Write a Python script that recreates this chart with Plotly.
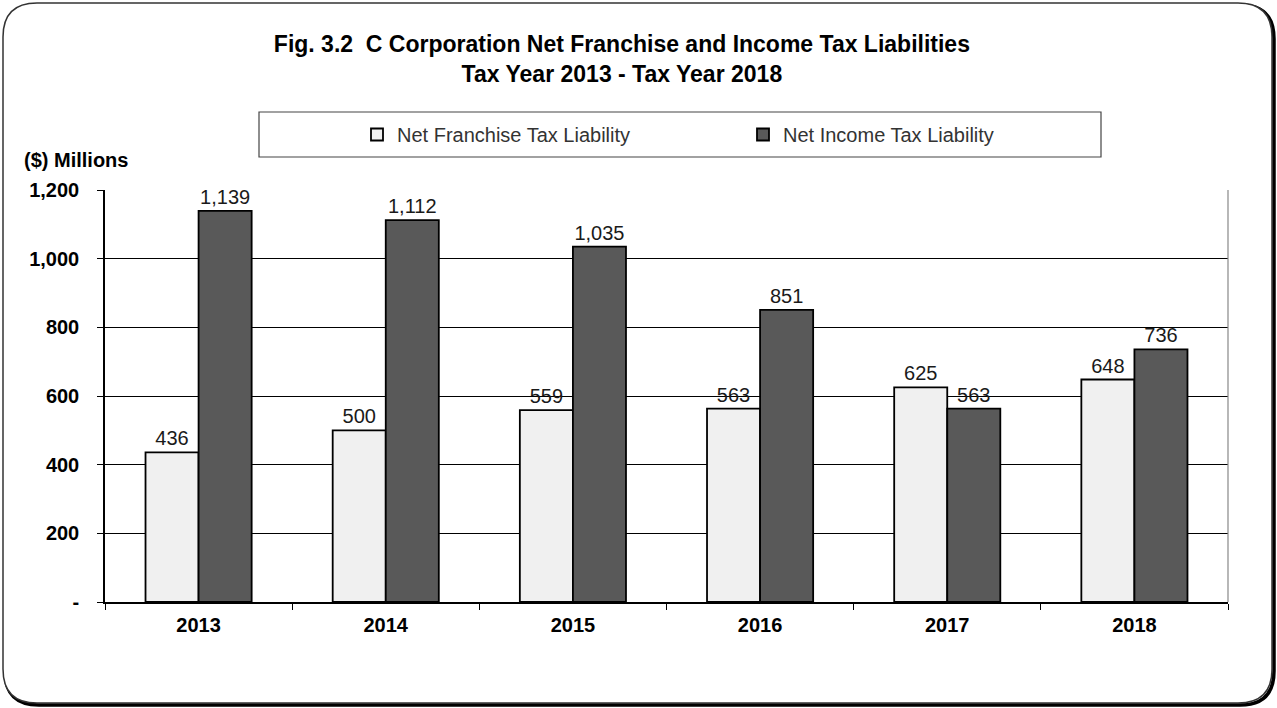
import plotly.graph_objects as go

years = ["2013", "2014", "2015", "2016", "2017", "2018"]
franchise = [436, 500, 559, 563, 625, 648]
income = [1139, 1112, 1035, 851, 563, 736]
ytick_vals = [0, 200, 400, 600, 800, 1000, 1200]
ytick_text = ["-", "200", "400", "600", "800", "1,000", "1,200"]

W, H = 1277, 708
L, R, T, B = 105, 1228, 190, 602
pw, ph = R - L, B - T

def px(x):
    return (x - L) / pw

def py(y):
    return (B - y) / ph

def rounded_path(x0, y0, x1, y1, r):
    pts = [
        f"M {px(x0 + r)} {py(y0)}",
        f"L {px(x1 - r)} {py(y0)}",
        f"Q {px(x1)} {py(y0)} {px(x1)} {py(y0 + r)}",
        f"L {px(x1)} {py(y1 - r)}",
        f"Q {px(x1)} {py(y1)} {px(x1 - r)} {py(y1)}",
        f"L {px(x0 + r)} {py(y1)}",
        f"Q {px(x0)} {py(y1)} {px(x0)} {py(y1 - r)}",
        f"L {px(x0)} {py(y0 + r)}",
        f"Q {px(x0)} {py(y0)} {px(x0 + r)} {py(y0)}",
        "Z",
    ]
    return " ".join(pts)

FONT = "Arial, Liberation Sans, sans-serif"

fig = go.Figure()
fig.add_trace(go.Bar(
    x=years, y=franchise, name="Net Franchise Tax Liability",
    marker=dict(color="#f0f0f0", line=dict(color="black", width=1.8)),
    text=[f"{v:,}" for v in franchise], textposition="outside",
    textfont=dict(family=FONT, size=20, color="#1a1a1a"), cliponaxis=False,
))
fig.add_trace(go.Bar(
    x=years, y=income, name="Net Income Tax Liability",
    marker=dict(color="#595959", line=dict(color="black", width=1.8)),
    text=[f"{v:,}" for v in income], textposition="outside",
    textfont=dict(family=FONT, size=20, color="#1a1a1a"), cliponaxis=False,
))

shapes = [
    # shadow frame
    dict(type="path", xref="paper", yref="paper",
         path=rounded_path(5, 5, 1274, 705, 34),
         line=dict(color="black", width=3.5), layer="below"),
    # main frame
    dict(type="path", xref="paper", yref="paper",
         path=rounded_path(3, 3, 1272, 703, 34),
         line=dict(color="#333333", width=1.5), fillcolor="white", layer="below"),
    # legend box
    dict(type="rect", xref="paper", yref="paper",
         x0=px(259), x1=px(1101), y0=py(157), y1=py(112),
         line=dict(color="#444444", width=1.2)),
    # right border of plot
    dict(type="line", xref="paper", yref="paper",
         x0=1, x1=1, y0=0, y1=1, line=dict(color="#888888", width=1.2)),
]

fig.update_layout(
    width=W, height=H,
    margin=dict(l=L, r=W - R, t=T, b=H - B),
    paper_bgcolor="white", plot_bgcolor="white",
    barmode="group", bargap=0.433, bargroupgap=0,
    font=dict(family=FONT, color="black"),
    title=dict(
        text="<b>Fig. 3.2  C Corporation Net Franchise and Income Tax Liabilities<br>Tax Year 2013 - Tax Year 2018</b>",
        x=0.487, xanchor="center", y=1 - 52 / H, yanchor="middle",
        font=dict(family=FONT, size=23, color="black"),
    ),
    legend=dict(
        orientation="h", x=px(357), xanchor="left", y=py(134.5), yanchor="middle",
        font=dict(family=FONT, size=20, color="#333333"),
        entrywidth=341, entrywidthmode="pixels",
        bgcolor="rgba(0,0,0,0)", borderwidth=0,
        itemclick=False,
    ),
    xaxis=dict(
        type="category", tickson="boundaries", ticks="outside", ticklen=6,
        tickcolor="black", showline=True, linecolor="black", linewidth=1.5,
        tickfont=dict(family=FONT, size=20, color="black", weight="bold"),
        showgrid=False, ticklabelstandoff=4,
    ),
    yaxis=dict(
        range=[0, 1200], tickvals=ytick_vals, ticktext=ytick_text,
        ticks="outside", ticklen=6, tickcolor="black",
        showline=True, linecolor="black", linewidth=1.5,
        showgrid=True, gridcolor="black", gridwidth=1,
        tickfont=dict(family=FONT, size=20, color="black", weight="bold"),
        ticklabelstandoff=14, zeroline=False,
    ),
    shapes=shapes,
    annotations=[
        dict(text="<b>($) Millions</b>", xref="paper", yref="paper",
             x=px(22), y=py(160), xanchor="left", yanchor="middle",
             showarrow=False, font=dict(family=FONT, size=20, color="black")),
    ],
)

fig.write_html(
    "out.html",
    config={"displayModeBar": False},
    post_script="document.body.style.margin='0';document.body.style.overflow='hidden';",
)
